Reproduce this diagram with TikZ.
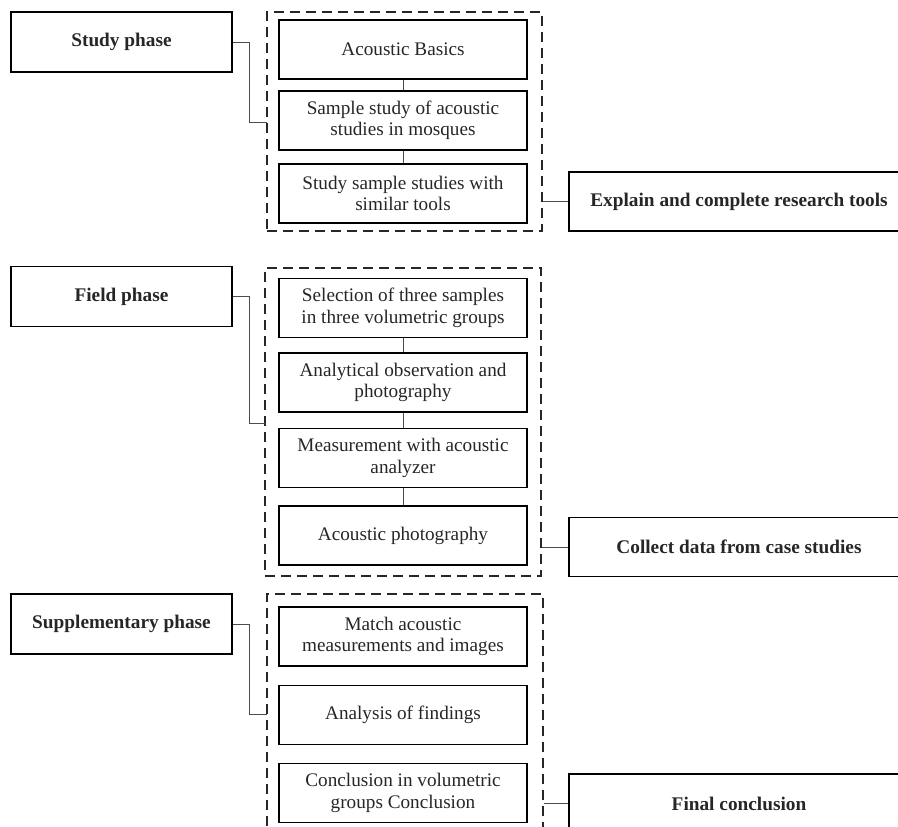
\documentclass[tikz,border=0pt]{standalone}
\usepackage{fontspec}
\setmainfont{Liberation Serif}

\tikzset{
  phase/.style={draw, line width=1.4pt, minimum width=221pt, minimum height=60pt,
    inner sep=0pt, font=\fontsize{19.3}{21.5}\selectfont\bfseries, text=black!85},
  task/.style={draw, line width=1.4pt, minimum width=248pt, minimum height=59pt,
    inner sep=0pt, align=center, font=\fontsize{19.2}{21.5}\selectfont, text=black!85},
  result/.style={draw, line width=1.4pt, minimum width=340pt, minimum height=59pt,
    inner sep=0pt, font=\fontsize{19.3}{21.5}\selectfont\bfseries, text=black!85},
  group/.style={draw, line width=2.2pt, dash pattern=on 10pt off 6pt, black!85},
  link/.style={draw, line width=0.7pt, black!70}
}

\begin{document}
\begin{tikzpicture}[x=1pt, y=-1pt]

\clip (0,0) rectangle (898,827);

% phases
\node [phase] (study) at (121.5, 42) {Study phase};
\node [phase] (field) at (121.5, 296.5) {Field phase};
\node [phase] (supp) at (121.5, 624) {Supplementary phase};

% dashed groups
\node [group, minimum width=275pt, minimum height=219pt] (grpA) at (404.5, 121.5) {};
\node [group, minimum width=276pt, minimum height=308pt] (grpB) at (403, 422) {};
\node [group, minimum width=276pt, minimum height=266pt] (grpC) at (405, 727) {};

% study tasks
\node [task] (basics) at (403, 49.5) {Acoustic Basics};
\node [task] (mosque) at (403, 120.5) {Sample study of acoustic\\studies in mosques};
\node [task] (similar) at (403, 193.5) {Study sample studies with\\similar tools};

% field tasks
\node [task] (select) at (403, 308) {Selection of three samples\\in three volumetric groups};
\node [task] (observe) at (403, 382.5) {Analytical observation and\\photography};
\node [task] (measure) at (403, 458) {Measurement with acoustic\\analyzer};
\node [task] (photo) at (403, 535.5) {Acoustic photography};

% supplementary tasks
\node [task] (match) at (403, 636.5) {Match acoustic\\measurements and images};
\node [task] (analysis) at (403, 715) {Analysis of findings};
\node [task] (conclude) at (403, 793) {Conclusion in volumetric\\groups Conclusion};

% results
\node [result] (tools) at (739, 201.5) {Explain and complete research tools};
\node [result] (collect) at (739, 547) {Collect data from case studies};
\node [result] (final) at (739, 803.5) {Final conclusion};

\coordinate (joinA) at (267, 122);
\coordinate (joinB) at (265, 423);
\coordinate (joinC) at (267, 714);

\draw [link] (basics) -- (mosque);
\draw [link] (mosque) -- (similar);
\draw [link] (select) -- (observe);
\draw [link] (observe) -- (measure);
\draw [link] (measure) -- (photo);

\draw [link] (study.east) -- ++(17,0) |- (joinA);
\draw [link] (field.east) -- ++(17,0) |- (joinB);
\draw [link] (supp.east) -- ++(17,0) |- (joinC);

\draw [link] (grpA.east |- tools) -- (tools);
\draw [link] (grpB.east |- collect) -- (collect);
\draw [link] (grpC.east |- final) -- (final);

\end{tikzpicture}
\end{document}
